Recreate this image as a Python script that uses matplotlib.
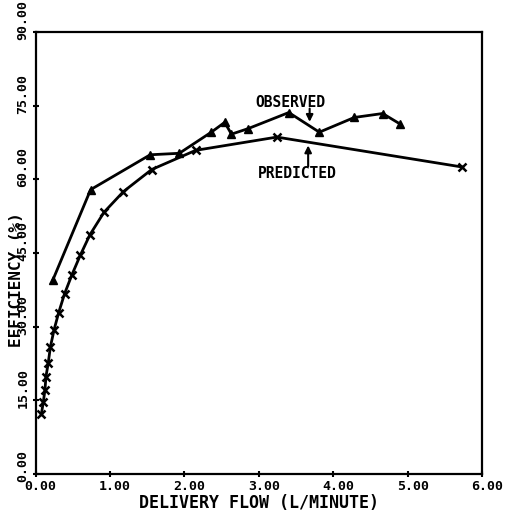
#!/usr/bin/env python3
import matplotlib

matplotlib.use("Agg")

import matplotlib.pyplot as plt
import matplotlib.transforms as mtransforms
from matplotlib.ticker import MultipleLocator

IMAGE_DPI = 100.0

# observed efficiency (triangles)
obs_flow = [0.23, 0.74, 1.54, 1.93, 2.36, 2.54, 2.63, 2.85, 3.40, 3.81, 4.28, 4.66, 4.89]
obs_eff = [39.4, 57.9, 65.0, 65.3, 69.6, 71.6, 69.2, 70.3, 73.6, 69.6, 72.6, 73.4, 71.3]

# predicted efficiency (x markers)
pred_flow = [0.08, 0.105, 0.127, 0.14, 0.17, 0.20, 0.25, 0.31, 0.39, 0.49,
             0.60, 0.73, 0.92, 1.18, 1.56, 2.15, 3.24, 5.73]
pred_eff = [12.3, 14.7, 17.1, 19.8, 22.5, 25.9, 29.4, 32.8, 36.7, 40.6,
            44.5, 48.7, 53.3, 57.5, 62.0, 65.9, 68.6, 62.5]

xticks = [0, 1, 2, 3, 4, 5, 6]
xtick_labels = ["0.00", "1.00", "2.00", "3.00", "4.00", "5.00", "6.00"]
yticks = [0, 15, 30, 45, 60, 75, 90]
ytick_labels = ["0.00", "15.00", "30.00", "45.00", "60.00", "75.00", "90.00"]

FONT = dict(family="DejaVu Sans Mono", weight="bold")

fig = plt.figure(figsize=(505 / IMAGE_DPI, 511 / IMAGE_DPI), dpi=IMAGE_DPI)
ax = fig.add_axes([0.0703, 0.0724, 0.8851, 0.865])

ax.plot(obs_flow, obs_eff, color="black", linewidth=2.0, marker="^",
        markersize=6, markerfacecolor="black", markeredgecolor="black")
ax.plot(pred_flow, pred_eff, color="black", linewidth=2.0, marker="x",
        markersize=6, markeredgewidth=1.8)

ax.set_xlim(0, 6)
ax.set_ylim(0, 90)

ax.set_xticks(xticks, labels=xtick_labels)
ax.set_yticks(yticks, labels=ytick_labels)
ax.yaxis.set_minor_locator(MultipleLocator(7.5))
ax.tick_params(axis="both", which="major", direction="inout", length=5, width=1.5,
               pad=2, labelsize=9.5)
ax.tick_params(axis="y", which="minor", direction="inout", length=2, width=1.2)

for label in ax.get_xticklabels():
    label.set_fontfamily(FONT["family"])
    label.set_fontweight("bold")
    label.set_transform(label.get_transform()
                        + mtransforms.ScaledTranslation(0.05, 0, fig.dpi_scale_trans))
for label in ax.get_yticklabels():
    label.set_fontfamily(FONT["family"])
    label.set_fontweight("bold")
    label.set_rotation(90)
    label.set_verticalalignment("bottom")
    label.set_transform(label.get_transform()
                        + mtransforms.ScaledTranslation(0, -0.08, fig.dpi_scale_trans))

for side in ["left", "right", "top", "bottom"]:
    ax.spines[side].set_linewidth(1.6)

ax.set_xlabel("DELIVERY FLOW (L/MINUTE)", fontsize=12, labelpad=0, **FONT)
ax.set_ylabel("EFFICIENCY (%)", fontsize=11.5, **FONT)
ax.yaxis.set_label_coords(-0.025, 0.44)
ax.xaxis.set_label_coords(0.5, -0.045)

# curve labels with pointer arrows
ax.text(3.42, 75.6, "OBSERVED", ha="center", va="center", fontsize=10.5, **FONT)
ax.annotate("", xy=(3.68, 71.7), xytext=(3.68, 74.4),
            arrowprops=dict(arrowstyle="-|>", color="black", lw=1.5,
                            shrinkA=0, shrinkB=0))
ax.text(3.51, 61.2, "PREDICTED", ha="center", va="center", fontsize=10.5, **FONT)
ax.annotate("", xy=(3.66, 66.9), xytext=(3.66, 62.6),
            arrowprops=dict(arrowstyle="-|>", color="black", lw=1.5,
                            shrinkA=0, shrinkB=0))

fig.savefig("out.png", dpi=IMAGE_DPI)
